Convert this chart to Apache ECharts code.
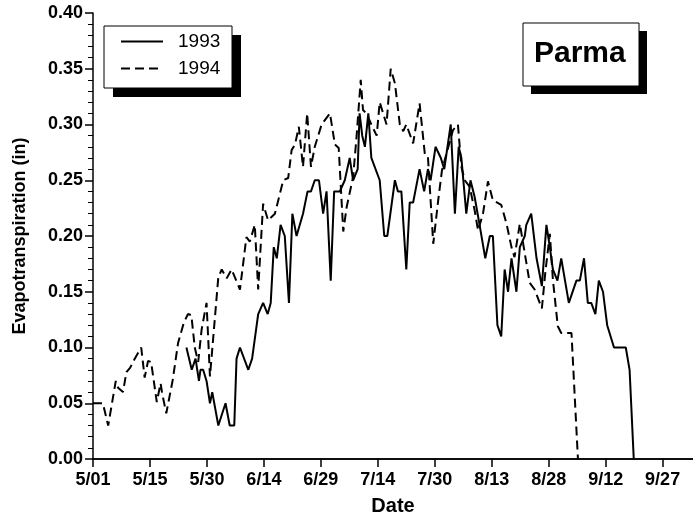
<!DOCTYPE html>
<html>
<head>
<meta charset="utf-8">
<script src="https://cdn.jsdelivr.net/npm/echarts@6/dist/echarts.min.js"></script>
<style>
  html, body { margin: 0; padding: 0; background: #fff; }
  #chart { width: 693px; height: 515px; }
</style>
</head>
<body>
<div id="chart"></div>
<script>
// x = days since May 1, ticks every 15 days
var tickLabels = ["5/01", "5/15", "5/30", "6/14", "6/29", "7/14", "7/30", "8/13", "8/28", "9/12", "9/27"];
var tickDays = tickLabels.map(function (t, i) { return i * 15; });

var days1993 = [24.6, 26, 27, 27.9, 28.3, 29, 29.9, 30.8, 31.4, 33, 34.9, 36, 37.2, 37.8, 38.7, 40.9, 41.9, 43.5, 44.8, 46, 46.8,
  47.6, 48.4, 49.4, 50.5, 51.6, 52.5, 53.6, 55.3, 56.5, 57.4, 58.4, 59.5, 60.6, 61.5, 62.6, 63.5, 65, 66.3, 67.6, 68.5, 69.7,
  70.2, 70.9, 71.6, 72.5, 73.3, 75.5, 76.7, 77.5, 79.5, 80.3, 81.2, 82.5, 83.4, 84.3, 86, 87.2, 88.2, 88.9, 90.2, 91.6, 92.5,
  94.2, 95.3, 96.3, 97, 98.3, 99.4, 100.5, 101.8, 103.3, 104.5, 105.3, 106.5, 107.5, 108.4, 109.3, 110.2, 111.5, 112.4, 113.7,
  114.1, 115.4, 116.8, 118.2, 119.4, 120.3, 121.1, 122.3, 123.3, 125.3, 127.3, 128.2, 129.3, 130.3, 131.2, 132.3, 133.2, 134.3,
  135.4, 137.2, 140.3, 141.3, 142.4];
var et1993 = [0.10, 0.08, 0.09, 0.07, 0.08, 0.08, 0.07, 0.05, 0.06, 0.03, 0.05, 0.03, 0.03, 0.09, 0.10, 0.08, 0.09, 0.13, 0.14, 0.13, 0.14,
  0.19, 0.18, 0.21, 0.20, 0.14, 0.22, 0.20, 0.22, 0.24, 0.24, 0.25, 0.25, 0.22, 0.24, 0.16, 0.24, 0.24, 0.25, 0.27, 0.25, 0.26,
  0.31, 0.29, 0.28, 0.31, 0.27, 0.25, 0.20, 0.20, 0.25, 0.24, 0.24, 0.17, 0.23, 0.23, 0.26, 0.24, 0.26, 0.25, 0.28, 0.27, 0.26,
  0.30, 0.22, 0.28, 0.27, 0.22, 0.25, 0.235, 0.21, 0.18, 0.20, 0.20, 0.12, 0.11, 0.17, 0.15, 0.18, 0.15, 0.19, 0.20,
  0.21, 0.22, 0.18, 0.155, 0.21, 0.19, 0.17, 0.16, 0.18, 0.14, 0.16, 0.16, 0.18, 0.14, 0.14, 0.13, 0.16, 0.15,
  0.12, 0.10, 0.10, 0.08, 0.00];

var days1994 = [0, 2.6, 4, 6, 6.6, 7.9, 8.8, 9.8, 11, 12.7, 13.6, 14.5, 15.3, 16.8, 17.8, 18.2, 19.3, 21, 22.4, 23.9, 25, 25.9,
  26.8, 27.7, 28.6, 29.9, 30.8, 33, 33.9, 35.2, 36.5, 38.7, 40.4, 41.3, 42.6, 43.5, 44.8, 46.1, 47.9, 50.1, 51.4, 52.3, 53.2,
  54.2, 55.3, 56.4, 57.4, 58.4, 60.2, 62.4, 63.7, 64.7, 65.9, 66.8, 68.5, 69.4, 70.5, 71.1, 72, 73.3, 74.7, 75.5, 77.3, 78.4,
  79.5, 80.8, 81.7, 82.5, 84.3, 86, 87.4, 88.2, 89.6, 90.9, 91.9, 94.8, 96.1, 97, 97.9, 99.2, 100.5, 101.4, 102.7, 104, 105.3,
  107.5, 108.9, 110.2, 111, 112.4, 115, 116.3, 118.2, 119.1, 120.3, 121.1, 122.4, 123.3, 126, 127.7];
var et1994 = [0.05, 0.05, 0.03, 0.07, 0.064, 0.06, 0.078, 0.082, 0.09, 0.10, 0.073, 0.088, 0.087, 0.051, 0.068, 0.059, 0.041, 0.071, 0.104, 0.122, 0.13, 0.129,
  0.10, 0.087, 0.116, 0.14, 0.074, 0.163, 0.17, 0.162, 0.17, 0.152, 0.199, 0.195, 0.21, 0.152, 0.229, 0.214, 0.22, 0.25, 0.252, 0.277, 0.282,
  0.298, 0.262, 0.31, 0.262, 0.28, 0.30, 0.31, 0.282, 0.279, 0.204, 0.226, 0.253, 0.289, 0.34, 0.313, 0.31, 0.30, 0.29, 0.32, 0.30, 0.35,
  0.337, 0.30, 0.294, 0.30, 0.283, 0.319, 0.273, 0.271, 0.193, 0.232, 0.259, 0.295, 0.30, 0.262, 0.25, 0.244, 0.223, 0.205, 0.22, 0.249, 0.232,
  0.228, 0.211, 0.19, 0.181, 0.211, 0.158, 0.152, 0.135, 0.167, 0.202, 0.161, 0.119, 0.113, 0.113, 0.00];

function pairs(xs, ys) {
  return xs.map(function (x, i) { return [x, ys[i]]; });
}

// box with a solid black drop shadow (legend and station label)
function shadowBox(x, y, w, h, off) {
  return [
    { type: "rect", z: 1, shape: { x: x + off, y: y + off, width: w, height: h }, style: { fill: "#000" } },
    { type: "rect", z: 2, shape: { x: x, y: y, width: w, height: h }, style: { fill: "#fff", stroke: "#000", lineWidth: 1 } }
  ];
}

var chart = echarts.init(document.getElementById("chart"));
var font = "'Liberation Sans', Arial, sans-serif";

var option = {
  backgroundColor: "#fff",
  animation: false,
  grid: { left: 93, right: 0, top: 13, bottom: 56, outerBoundsMode: "none", containLabel: false },
  graphic: shadowBox(104, 26, 128, 62, 9).concat(shadowBox(523, 23, 116, 63, 8)),
  title: {
    text: "Parma",
    left: 534,
    top: 39,
    padding: 0,
    z: 10,
    textStyle: { fontFamily: font, fontWeight: "bold", fontSize: 30, color: "#000" }
  },
  legend: {
    orient: "vertical",
    left: 104,
    top: 26,
    padding: [6, 10, 6, 16],
    itemWidth: 42,
    itemHeight: 14,
    itemGap: 8,
    z: 10,
    itemStyle: { opacity: 0 },
    textStyle: { fontFamily: font, fontSize: 19, color: "#000", padding: [0, 0, 0, 10] },
    data: ["1993", "1994"]
  },
  xAxis: [
    {
      type: "value",
      min: 0,
      max: 158,
      interval: 15,
      name: "Date",
      nameLocation: "middle",
      nameGap: 37,
      nameTextStyle: { fontFamily: font, fontWeight: "bold", fontSize: 20, color: "#000" },
      axisLine: { show: true, onZero: false, lineStyle: { color: "#000", width: 1.5 } },
      axisTick: { show: true, inside: false, length: 8, customValues: tickDays, lineStyle: { color: "#000", width: 1.5 } },
      axisLabel: {
        fontFamily: font, fontWeight: "bold", fontSize: 18, color: "#000", margin: 12,
        customValues: tickDays,
        formatter: function (v) { return tickLabels[Math.round(v / 15)] || ""; }
      },
      splitLine: { show: false }
    },
    {
      type: "value",
      position: "top",
      min: 0,
      max: 158,
      axisLine: { show: true, lineStyle: { color: "#000", width: 1.5 } },
      axisTick: { show: false },
      axisLabel: { show: false },
      splitLine: { show: false }
    }
  ],
  yAxis: {
    type: "value",
    min: 0,
    max: 0.4,
    interval: 0.05,
    name: "Evapotranspiration (in)",
    nameLocation: "middle",
    nameGap: 64,
    nameTextStyle: { fontFamily: font, fontWeight: "bold", fontSize: 18, color: "#000" },
    axisLine: { show: true, lineStyle: { color: "#000", width: 1.5 } },
    axisTick: { show: true, length: 8, lineStyle: { color: "#000", width: 1.5 } },
    minorTick: { show: true, splitNumber: 5, length: 5, lineStyle: { color: "#000", width: 1 } },
    axisLabel: {
      fontFamily: font, fontWeight: "bold", fontSize: 18, color: "#000", margin: 10,
      formatter: function (v) { return v.toFixed(2); }
    },
    splitLine: { show: false }
  },
  series: [
    {
      name: "1993",
      type: "line",
      data: pairs(days1993, et1993),
      symbol: "none",
      lineStyle: { color: "#000", width: 2 },
      itemStyle: { color: "#000" }
    },
    {
      name: "1994",
      type: "line",
      data: pairs(days1994, et1994),
      symbol: "none",
      lineStyle: { color: "#000", width: 2, type: [9, 5] },
      itemStyle: { color: "#000" }
    }
  ]
};

chart.setOption(option);
</script>
</body>
</html>
